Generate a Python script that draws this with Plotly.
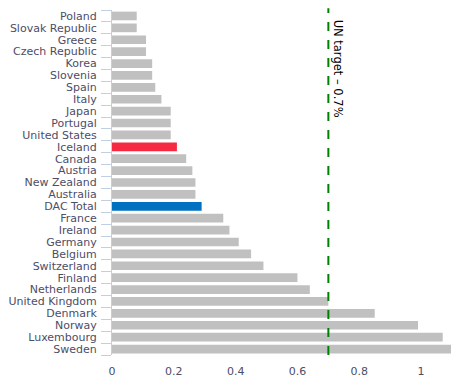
import plotly.graph_objects as go

countries = ["Poland", "Slovak Republic", "Greece", "Czech Republic", "Korea", "Slovenia",
             "Spain", "Italy", "Japan", "Portugal", "United States", "Iceland", "Canada",
             "Austria", "New Zealand", "Australia", "DAC Total", "France", "Ireland",
             "Germany", "Belgium", "Switzerland", "Finland", "Netherlands",
             "United Kingdom", "Denmark", "Norway", "Luxembourg", "Sweden"]
values = [0.08, 0.08, 0.11, 0.11, 0.13, 0.13, 0.14, 0.16, 0.19, 0.19, 0.19, 0.21, 0.24,
          0.26, 0.27, 0.27, 0.29, 0.36, 0.38, 0.41, 0.45, 0.49, 0.60, 0.64, 0.70, 0.85,
          0.99, 1.07, 1.10]
highlight = {"Iceland": "#F52A42", "DAC Total": "#0070C0"}
colors = [highlight.get(c, "#C0C0C0") for c in countries]
un_target = 0.7
x_ticks = [0, 0.2, 0.4, 0.6, 0.8, 1]
x_ticktext = ["0", "0.2", "0.4", "0.6", "0.8", "1"]

fig = go.Figure(go.Bar(
    x=values, y=countries, orientation="h",
    marker=dict(color=colors, line=dict(width=0)),
    hoverinfo="x+y",
))

fig.add_shape(type="line", xref="x", yref="paper", x0=un_target, x1=un_target,
              y0=0, y1=1.005, line=dict(color="#008000", width=2, dash="dash"))
fig.add_annotation(x=un_target, xref="x", y=1, yref="paper", yanchor="top",
                   xanchor="left", xshift=1, yshift=-8,
                   text="UN target – 0.7%", showarrow=False, textangle=90,
                   font=dict(family="DejaVu Sans", size=11.5, color="#000000"))

fig.update_layout(
    width=451, height=377,
    margin=dict(l=104, r=7, t=2, b=30),
    plot_bgcolor="white", paper_bgcolor="white",
    bargap=0.27,
    showlegend=False,
    font=dict(family="DejaVu Sans", size=11, color="#4D4D66"),
)
fig.update_xaxes(range=[0, 1.1], tickmode="array", tickvals=x_ticks, ticktext=x_ticktext,
                 ticklabelstandoff=8,
                 showgrid=False, zeroline=False, showline=False, ticks="",
                 automargin=False, tickfont=dict(size=11, color="#4D4D66"))
fig.update_yaxes(categoryorder="array", categoryarray=countries, autorange="reversed",
                 tickmode="array", tickvals=countries, ticktext=countries,
                 ticklabelstandoff=12,
                 showgrid=False, showline=True, linecolor="#C0D0E0", linewidth=1,
                 ticks="outside", tickson="boundaries", ticklen=10, tickcolor="#C0D0E0",
                 automargin=False, tickfont=dict(size=11, color="#4D4D66"))

fig.write_html("out.html")
